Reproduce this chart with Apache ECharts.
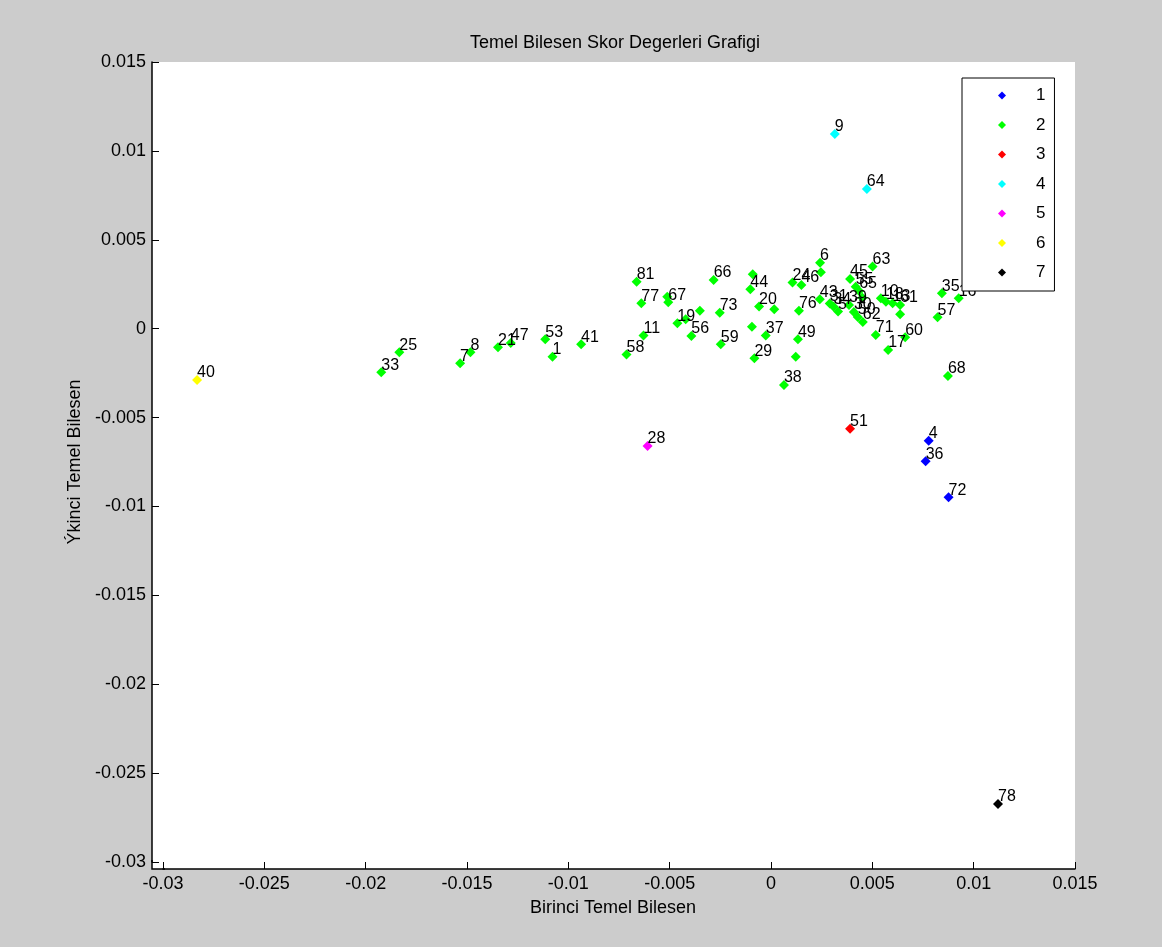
<!DOCTYPE html>
<html>
<head>
<meta charset="utf-8">
<script src="https://cdn.jsdelivr.net/npm/echarts@6/dist/echarts.min.js"></script>
<style>
html,body{margin:0;padding:0;background:#cccccc;}
#chart{width:1162px;height:947px;}
</style>
</head>
<body>
<div id="chart"></div>
<script>
// ---- data ----
var groupNames = ['1','2','3','4','5','6','7'];
var groupColors = ['#0000ff','#00ff00','#ff0000','#00ffff','#ff00ff','#ffff00','#000000'];

var pointLabels = ['4','36','72',
  '33','25','7','8','21','47','53','1','41','58',
  '11','81','77','67','','19','','','56','66',
  '73','59','44','','20','','','37','29','38',
  '','49','76','24','46','6','','43','31','34',
  '5','45','63','55','65','','39','30','50','62',
  '71','17','60','10','18','13','61','','35','16',
  '57','68',
  '51','9','64','28','40','78'];
var pointGroup = [1,1,1,
  2,2,2,2,2,2,2,2,2,2,
  2,2,2,2,2,2,2,2,2,2,
  2,2,2,2,2,2,2,2,2,2,
  2,2,2,2,2,2,2,2,2,2,
  2,2,2,2,2,2,2,2,2,2,
  2,2,2,2,2,2,2,2,2,2,
  2,2,
  3,4,4,5,6,7];
var pointX = [0.00778,0.00763,0.00876,
  -0.01923,-0.01834,-0.01534,-0.01483,-0.01347,-0.01284,-0.01114,-0.01078,-0.00937,-0.00713,
  -0.00629,-0.00663,-0.0064,-0.00507,-0.00512,-0.00462,-0.00421,-0.00351,-0.00393,-0.00283,
  -0.00253,-0.00248,-0.00102,-0.0009,-0.00059,0.00016,-0.00094,-0.00026,-0.00082,0.00064,
  0.00122,0.00133,0.00138,0.00106,0.0015,0.00242,0.00246,0.00241,0.0029,0.00308,
  0.00331,0.0039,0.00501,0.00418,0.00435,0.00451,0.00385,0.00409,0.00428,0.00453,
  0.00517,0.00578,0.00662,0.00542,0.00567,0.006,0.00637,0.00637,0.00843,0.00926,
  0.00822,0.00873,
  0.0039,0.00315,0.00473,-0.00609,-0.02832,0.0112];
var pointY = [-0.0063,-0.00746,-0.00948,
  -0.00245,-0.00133,-0.00195,-0.00133,-0.00105,-0.0008,-0.0006,-0.00158,-0.00088,-0.00146,
  -0.00039,0.00264,0.00143,0.00148,0.0018,0.0003,0.00053,0.00101,-0.00041,0.00274,
  0.0009,-0.00088,0.00222,0.00306,0.00124,0.00109,0.00011,-0.00038,-0.00166,-0.00317,
  -0.00158,-0.0006,0.00101,0.00259,0.00246,0.00371,0.00317,0.00165,0.00141,0.00124,
  0.00096,0.0028,0.00349,0.00236,0.00212,0.00174,0.00133,0.00094,0.00066,0.00038,
  -0.00035,-0.0012,-0.00048,0.00171,0.00152,0.00143,0.00133,0.00081,0.00199,0.00171,
  0.00064,-0.00266,
  -0.005625,0.01095,0.00786,-0.0066,-0.00289,-0.02674];

var axisMin = -0.03, axisMax = 0.015, axisStep = 0.005;
var titleText = 'Temel Bilesen Skor Degerleri Grafigi';
var xName = 'Birinci Temel Bilesen';
var yName = '\u00DDkinci Temel Bilesen';

// ---- chart ----
var FONT = "'Liberation Sans', Arial, sans-serif";
var series = groupNames.map(function(name, gi){
  var data = [];
  for (var i = 0; i < pointX.length; i++) {
    if (pointGroup[i] === gi + 1) data.push({value:[pointX[i], pointY[i]], name: pointLabels[i]});
  }
  return {
    name: name, type: 'scatter', symbol: 'diamond', symbolSize: 10,
    itemStyle: {color: groupColors[gi], opacity: 1},
    label: {show: true, position: [5, -2], align: 'left', verticalAlign: 'middle',
      formatter: function(p){ return p.name; },
      color: '#000', fontFamily: FONT, fontSize: 16},
    emphasis: {disabled: true},
    z: 3,
    data: data
  };
});

function fmt(v){
  var r = Math.round(v*1000)/1000;
  if (Math.abs(r) < 1e-12) return '0';
  return String(r);
}

var chart = echarts.init(document.getElementById('chart'), null, {renderer:'canvas'});
chart.setOption({
  animation: false,
  backgroundColor: '#cccccc',
  color: groupColors,
  title: {text: titleText, left: 610, top: 29, textAlign: 'center',
    textStyle: {fontFamily: FONT, fontSize: 18, fontWeight: 'normal', color: '#000'}},
  graphic: [
    {type: 'rect', z: -10, shape: {x: 152, y: 62, width: 923, height: 807}, style: {fill: '#ffffff'}},
    {type: 'polyline', z: 10, shape: {points: [[152, 860], [152, 869], [165, 869]]}, style: {stroke: '#000', lineWidth: 1.5, fill: null}}
  ],
  legend: {
    orient: 'vertical', left: 962, top: 78,
    data: groupNames,
    icon: 'diamond', itemWidth: 8, itemHeight: 8, itemGap: 12.5,
    padding: [9, 9, 10, 36],
    borderColor: '#000', borderWidth: 1, backgroundColor: '#ffffff',
    textStyle: {fontFamily: FONT, fontSize: 17, color: '#000', lineHeight: 16, padding: [0, 0, 0, 25]},
    selectedMode: false
  },
  grid: {left: 163, right: 87, top: 62, bottom: 85, containLabel: false},
  xAxis: {
    type: 'value', min: axisMin, max: axisMax, interval: axisStep, offset: 7,
    name: xName, nameLocation: 'middle', nameGap: 30,
    nameTextStyle: {fontFamily: FONT, fontSize: 18, color: '#000', padding: [0, 12, 0, 0]},
    axisLine: {show: true, onZero: false, lineStyle: {color: '#000', width: 1.5}},
    axisTick: {show: true, inside: true, length: 7, lineStyle: {color: '#000'}},
    axisLabel: {formatter: fmt, fontFamily: FONT, fontSize: 18, color: '#000', margin: 6},
    splitLine: {show: false}
  },
  yAxis: {
    type: 'value', min: axisMin, max: axisMax, interval: axisStep, offset: 11,
    name: yName, nameLocation: 'middle', nameGap: 68, nameRotate: 90,
    nameTextStyle: {fontFamily: FONT, fontSize: 18, color: '#000'},
    axisLine: {show: true, onZero: false, lineStyle: {color: '#000', width: 1.5}},
    axisTick: {show: true, inside: true, length: 7, lineStyle: {color: '#000'}},
    axisLabel: {formatter: fmt, fontFamily: FONT, fontSize: 18, color: '#000', margin: 6},
    splitLine: {show: false}
  },
  series: series
});
</script>
</body>
</html>
